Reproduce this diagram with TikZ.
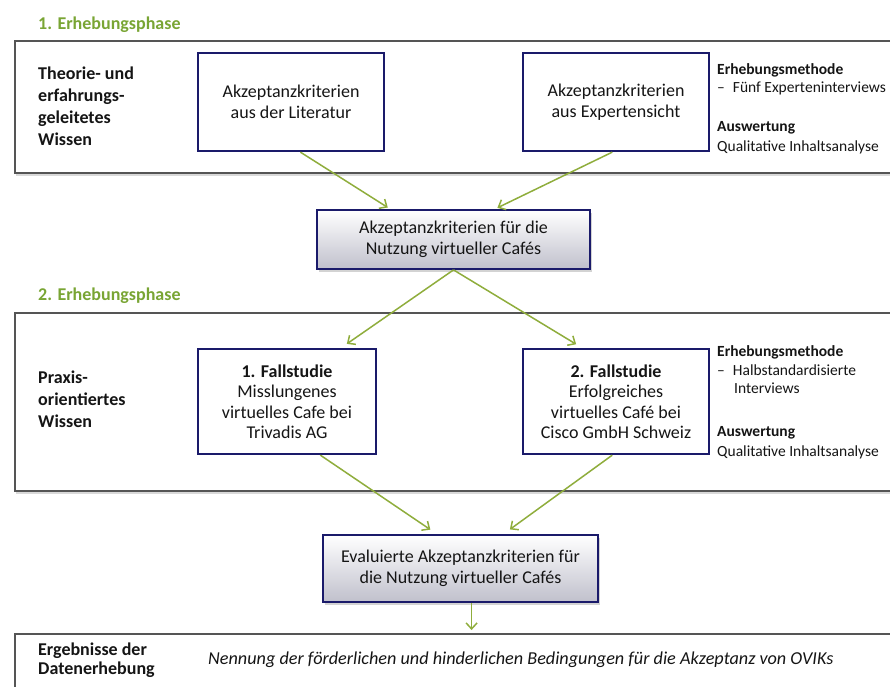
\documentclass[tikz,border=0pt]{standalone}
\usepackage{fontspec}
\setmainfont{Carlito}
\usetikzlibrary{shadows,calc,arrows.meta}

\definecolor{phasegreen}{HTML}{79A534}
\definecolor{arrowgreen}{HTML}{8FAD3C}
\definecolor{navy}{HTML}{1A1A6A}
\definecolor{framegray}{HTML}{555555}
\definecolor{txt}{HTML}{151515}

\tikzset{
  phasebox/.style={draw=framegray, line width=1.8pt, fill=white, anchor=north west,
    drop shadow={shadow xshift=1.5pt, shadow yshift=-3pt, opacity=0.3}},
  srcbox/.style={draw=navy, line width=2.3pt, fill=white, align=center, text=txt,
    font=\fontsize{18}{20.5}\selectfont, inner sep=2pt},
  resultbox/.style={draw=navy, line width=1.8pt, align=center, text=txt,
    top color=white, bottom color={rgb,255:red,192;green,192;blue,204},
    font=\fontsize{18}{20.5}\selectfont,
    drop shadow={shadow xshift=1.5pt, shadow yshift=-2.5pt, opacity=0.35}},
  phasetitle/.style={anchor=west, text=phasegreen, font=\bfseries\fontsize{18}{20}\selectfont, inner sep=0pt},
  sidelabel/.style={anchor=west, align=left, text=txt, font=\bfseries\fontsize{18}{22}\selectfont, inner sep=0pt},
  notehead/.style={anchor=west, text=txt, font=\bfseries\fontsize{15.5}{18}\selectfont, inner sep=0pt},
  notetext/.style={anchor=west, text=txt, font=\fontsize{15.5}{18}\selectfont, inner sep=0pt},
  flow/.style={draw=arrowgreen, line width=1.5pt, -{Straight Barb[length=6pt,width=11pt]}},
}

\begin{document}
\begin{tikzpicture}[x=1pt, y=-1pt]
\useasboundingbox (0,0) rectangle (890,686);

% phase frames
\node[phasebox, minimum width=890pt, minimum height=132pt] (ph1) at (14,40) {};
\node[phasebox, minimum width=890pt, minimum height=178pt] (ph2) at (14,312) {};
\node[phasebox, minimum width=890pt, minimum height=80pt] (res) at (14,633) {};

% phase titles
\node[phasetitle] (t1) at (38,25) {1. Erhebungsphase};
\node[phasetitle] (t2) at (38,296) {2. Erhebungsphase};

% left labels
\node[sidelabel] (l1) at (38,106) {Theorie- und\\erfahrungs-\\geleitetes\\Wissen};
\node[sidelabel] (l2) at (38,399) {Praxis-\\orientiertes\\Wissen};
\node[sidelabel, font=\bfseries\fontsize{18}{19}\selectfont] (l3) at (38,660) {Ergebnisse der\\Datenerhebung};

% phase 1 sources
\node[srcbox, minimum width=186pt, minimum height=98pt] (lit) at (291,102)
  {Akzeptanzkriterien\\aus der Literatur};
\node[srcbox, minimum width=186pt, minimum height=98pt] (exp) at (616,102)
  {Akzeptanzkriterien\\aus Expertensicht};

% phase 1 method notes
\node[notehead] (m1a) at (717,70) {Erhebungsmethode};
\node[notetext] (m1b) at (717,88) {–\hspace{8pt}Fünf Experteninterviews};
\node[notehead] (m1c) at (717,128) {Auswertung};
\node[notetext] (m1d) at (717,147) {Qualitative Inhaltsanalyse};

% intermediate result
\node[resultbox, minimum width=273pt, minimum height=59pt] (mid) at (453.5,239.5)
  {Akzeptanzkriterien für die\\Nutzung virtueller Cafés};

% phase 2 case studies
\node[srcbox, minimum width=178pt, minimum height=105pt] (fs1) at (287,401.5)
  {\textbf{1. Fallstudie}\\Misslungenes\\virtuelles Cafe bei\\Trivadis AG};
\node[srcbox, minimum width=186pt, minimum height=105pt] (fs2) at (616,401.5)
  {\textbf{2. Fallstudie}\\Erfolgreiches\\virtuelles Café bei\\Cisco GmbH Schweiz};

% phase 2 method notes
\node[notehead] (m2a) at (717,352) {Erhebungsmethode};
\node[notetext] (m2b) at (717,370) {–\hspace{8pt}Halbstandardisierte};
\node[notetext] (m2c) at (734,388) {Interviews};
\node[notehead] (m2d) at (717,433) {Auswertung};
\node[notetext] (m2e) at (717,452) {Qualitative Inhaltsanalyse};

% evaluated result
\node[resultbox, minimum width=275pt, minimum height=67pt] (eval) at (460.5,568.5)
  {Evaluierte Akzeptanzkriterien für\\die Nutzung virtueller Cafés};

% final statement
\node[anchor=west, text=txt, font=\itshape\fontsize{18.2}{20}\selectfont, inner sep=0pt] (final) at (208,660)
  {Nennung der förderlichen und hinderlichen Bedingungen für die Akzeptanz von OVIKs};

% connector end points on the box edges
\coordinate (litout) at ($(lit.south west)!0.55!(lit.south east)$);
\coordinate (expout) at ($(exp.south west)!0.48!(exp.south east)$);
\coordinate (midinL) at ($(mid.north west)!0.27!(mid.north east)$);
\coordinate (midinR) at ($(mid.north west)!0.65!(mid.north east)$);
\coordinate (fs1in) at ($(fs1.north west)!0.8!(fs1.north east)$);
\coordinate (fs2in) at ($(fs2.north west)!0.32!(fs2.north east)$);
\coordinate (fs1out) at ($(fs1.south west)!0.685!(fs1.south east)$);
\coordinate (fs2out) at ($(fs2.south west)!0.48!(fs2.south east)$);
\coordinate (evalinL) at ($(eval.north west)!0.415!(eval.north east)$);
\coordinate (evalinR) at ($(eval.north west)!0.655!(eval.north east)$);
\coordinate (evalout) at ($(eval.south west)!0.54!(eval.south east)$);

% connectors
\draw[flow, shorten >=3pt] (litout) -- (midinL);
\draw[flow, shorten >=3pt] (expout) -- (midinR);
\draw[flow, shorten >=7pt] (mid.south) -- (fs1in);
\draw[flow, shorten >=7pt] (mid.south) -- (fs2in);
\draw[flow, shorten >=8pt] (fs1out) -- (evalinL);
\draw[flow, shorten >=8pt] (fs2out) -- (evalinR);
\draw[flow, shorten >=3pt] (evalout) -- (evalout |- res.north);
\end{tikzpicture}
\end{document}
